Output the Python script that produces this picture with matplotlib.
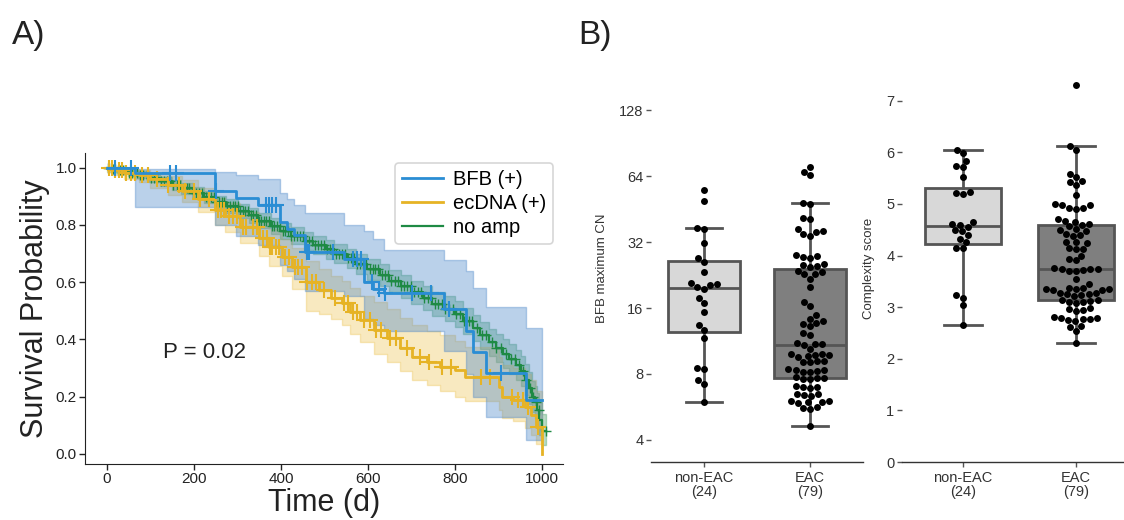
import matplotlib
matplotlib.use("Agg")
import matplotlib.pyplot as plt
from matplotlib.ticker import NullLocator
import numpy as np
import seaborn as sns

plt.rcParams["font.family"] = ["Liberation Sans", "DejaVu Sans"]

BLUE = "#2a8dd4"
YELLOW = "#e6b325"
GREEN = "#1e8a44"
BOX_EDGE = "#555555"
TEXT = "#333333"

# ---- A) Kaplan-Meier curves (read off the picture) ----
bfb_t = [0, 64, 248, 298, 348, 398, 415, 430, 456, 545, 592, 612, 637, 774, 825, 841, 871, 962, 1000]
bfb_s = [1.0, 0.982, 0.918, 0.893, 0.870, 0.81, 0.787, 0.765, 0.707, 0.682, 0.60, 0.575, 0.563, 0.505,
         0.43, 0.355, 0.284, 0.187, 0.187]
bfb_lo = [1.0, 0.864, 0.80, 0.76, 0.73, 0.66, 0.64, 0.61, 0.57, 0.55, 0.47, 0.45, 0.43, 0.36, 0.28, 0.20,
          0.13, 0.05, 0.05]
bfb_hi = [1.0, 0.995, 0.985, 0.975, 0.96, 0.91, 0.89, 0.87, 0.84, 0.80, 0.78, 0.75, 0.712, 0.678, 0.64,
          0.58, 0.514, 0.44, 0.44]
bfb_cens = [20, 55, 145, 160, 250, 365, 372, 380, 388, 460, 465, 520, 565, 575, 585, 610, 625, 640, 700,
            745, 785, 905]

ec_t = [0, 15, 40, 73, 100, 140, 173, 210, 249, 272, 306, 349, 372, 403, 426, 457, 488, 515, 540, 559,
        582, 613, 643, 674, 701, 736, 766, 800, 823, 900, 907, 934, 961, 975, 985, 1000]
ec_s = [1.0, 0.99, 0.98, 0.975, 0.96, 0.94, 0.92, 0.89, 0.852, 0.83, 0.794, 0.754, 0.724, 0.689, 0.654,
        0.600, 0.573, 0.544, 0.526, 0.497, 0.468, 0.433, 0.404, 0.369, 0.34, 0.322, 0.305, 0.293, 0.27,
        0.235, 0.20, 0.19, 0.165, 0.136, 0.095, 0.0]
ec_lo = [0.985, 0.975, 0.96, 0.95, 0.93, 0.905, 0.88, 0.845, 0.80, 0.775, 0.735, 0.69, 0.655, 0.62, 0.575,
         0.50, 0.49, 0.47, 0.45, 0.42, 0.39, 0.35, 0.32, 0.29, 0.26, 0.24, 0.22, 0.20, 0.185, 0.155, 0.125,
         0.115, 0.09, 0.065, 0.035, 0.0]
ec_hi = [1.0, 1.0, 0.995, 0.99, 0.985, 0.97, 0.955, 0.93, 0.895, 0.875, 0.845, 0.81, 0.785, 0.75, 0.72,
         0.675, 0.645, 0.62, 0.605, 0.58, 0.55, 0.53, 0.505, 0.475, 0.45, 0.43, 0.415, 0.395, 0.375, 0.34,
         0.31, 0.30, 0.28, 0.26, 0.22, 0.15]
ec_cens = [5, 12, 20, 28, 35, 45, 55, 65, 80, 95, 115, 140, 165, 180, 200, 215, 235, 255, 262, 270, 280,
           290, 300, 312, 320, 335, 345, 360, 368, 375, 380, 388, 395, 410, 418, 432, 440, 448, 460, 472,
           480, 500, 525, 545, 555, 565, 575, 590, 605, 618, 630, 650, 665, 690, 720, 740, 770, 790, 860,
           880, 930, 945, 955, 968, 990]

na_t = [0, 9, 23, 48, 71, 98, 122, 149, 171, 197, 224, 248, 273, 302, 326, 348, 377, 399, 423, 452, 474,
        503, 522, 551, 573, 598, 627, 648, 676, 699, 727, 748, 777, 801, 819, 842, 858, 878, 893, 911, 924,
        941, 951, 960, 969, 976, 983, 989, 994, 999, 1008]
na_s = [1.0, 0.995, 0.99, 0.982, 0.975, 0.965, 0.952, 0.94, 0.928, 0.913, 0.898, 0.88, 0.866, 0.85, 0.833,
        0.815, 0.797, 0.78, 0.762, 0.745, 0.73, 0.715, 0.70, 0.683, 0.664, 0.645, 0.625, 0.605, 0.585,
        0.565, 0.545, 0.525, 0.508, 0.49, 0.465, 0.44, 0.415, 0.39, 0.37, 0.35, 0.333, 0.31, 0.29, 0.26,
        0.23, 0.20, 0.18, 0.155, 0.12, 0.08, 0.08]
na_lo = [0.99, 0.985, 0.98, 0.97, 0.962, 0.95, 0.936, 0.922, 0.909, 0.893, 0.876, 0.857, 0.842, 0.825,
         0.807, 0.788, 0.769, 0.751, 0.732, 0.714, 0.698, 0.682, 0.666, 0.648, 0.628, 0.608, 0.587, 0.566,
         0.545, 0.524, 0.503, 0.482, 0.464, 0.445, 0.419, 0.393, 0.367, 0.341, 0.32, 0.299, 0.281, 0.257,
         0.236, 0.205, 0.175, 0.145, 0.124, 0.099, 0.065, 0.03, 0.03]
na_hi = [1.0, 1.0, 0.997, 0.992, 0.987, 0.978, 0.967, 0.957, 0.946, 0.932, 0.918, 0.902, 0.889, 0.874,
         0.858, 0.841, 0.824, 0.808, 0.791, 0.775, 0.761, 0.747, 0.733, 0.717, 0.699, 0.681, 0.662, 0.643,
         0.624, 0.605, 0.586, 0.567, 0.551, 0.534, 0.51, 0.486, 0.462, 0.438, 0.419, 0.40, 0.384, 0.362,
         0.343, 0.315, 0.286, 0.256, 0.237, 0.213, 0.18, 0.14, 0.14]
na_cens = [2, 6, 11, 15, 19, 26, 31, 37, 42, 50, 57, 63, 69, 77, 84, 92, 101, 108, 116, 124, 131, 139, 146,
           153, 161, 168, 177, 184, 190, 199, 206, 212, 219, 227, 233, 240, 246, 252, 258, 265, 270, 277,
           283, 289, 295, 301, 307, 312, 318, 324, 331, 337, 342, 349, 355, 361, 366, 372, 379, 385, 391,
           397, 404, 410, 417, 424, 431, 437, 444, 451, 458, 464, 471, 478, 485, 492, 499, 506, 512, 519,
           526, 533, 540, 547, 555, 561, 568, 575, 582, 589, 596, 604, 611, 617, 624, 632, 639, 646, 653,
           661, 668, 676, 683, 690, 698, 706, 714, 721, 729, 737, 745, 753, 761, 769, 778, 786, 795, 803,
           812, 821, 831, 840, 850, 861, 872, 884, 895, 906, 917, 928, 937, 946, 955, 964, 972, 980, 987,
           993, 1008]

p_text = "P = 0.02"

# ---- B) box + swarm data ----
groups = ["non-EAC", "EAC"]
group_labels = ["non-EAC\n(24)", "EAC\n(79)"]

bfb_non = [55.5, 49.5, 37.0, 36.6, 31.7, 27.2, 26.0, 23.4, 20.9, 20.4, 19.6, 20.7, 20.0, 17.8, 16.9, 15.3,
           13.4, 12.7, 11.7, 8.5, 8.4, 7.5, 7.2, 5.97]
bfb_eac = [70.7, 67.0, 64.7, 48.5, 48.0, 41.4, 41.0, 36.6, 36.0, 35.6, 34.7, 34.3,
           27.6, 27.2, 27.9, 27.4, 25.1, 24.8, 25.4, 24.6, 23.4, 23.0, 23.7, 22.8,
           21.8, 20.0, 17.0, 16.4, 14.9, 14.3, 14.0, 13.5, 13.2, 13.7, 12.3, 12.1,
           11.0, 10.9, 11.1, 11.0, 10.4, 9.8, 9.7, 9.9, 9.6, 9.85, 9.75, 9.15, 9.1, 9.2, 9.05,
           8.3, 8.2, 8.4, 8.25, 8.35, 8.15, 7.66, 7.6, 7.7, 7.55, 7.75, 7.0, 6.95, 7.05, 6.9,
           6.45, 6.4, 6.5, 6.35, 5.97, 5.9, 6.0, 5.95, 6.05, 5.6, 5.55, 5.65, 4.64]

cx_non = [6.05, 5.98, 5.84, 5.74, 5.72, 5.53, 5.22, 5.20, 5.24, 4.65, 4.60, 4.61, 4.56, 4.47, 4.49, 4.39,
          4.32, 4.26, 4.15, 4.14, 3.23, 3.18, 3.04, 2.65]
cx_eac = [7.30, 6.13, 6.05, 5.59, 5.52, 5.43, 5.44, 5.36, 5.17, 4.99, 4.98, 5.00, 4.92, 4.91, 4.93,
          4.68, 4.70, 4.66, 4.60, 4.62, 4.57, 4.50, 4.52, 4.48, 4.40, 4.42, 4.38, 4.26, 4.24, 4.27,
          4.13, 4.15, 4.12, 4.00, 3.93, 3.91, 3.75, 3.76, 3.74, 3.75, 3.71, 3.70, 3.72, 3.55, 3.44,
          3.36, 3.35, 3.37, 3.34, 3.36, 3.38, 3.33, 3.25, 3.24, 3.27, 3.22, 3.26, 3.28,
          3.12, 3.10, 3.13, 3.11, 3.14, 3.09, 2.96, 2.94, 2.98, 2.92,
          2.80, 2.78, 2.79, 2.77, 2.81, 2.76, 2.73, 2.64, 2.62, 2.54, 2.30]


def _censor_y(t, s, cens):
    t = np.asarray(t)
    s = np.asarray(s)
    idx = np.searchsorted(t, np.asarray(cens), side="right") - 1
    return s[np.clip(idx, 0, len(s) - 1)]


fig = plt.figure(figsize=(11.24, 5.2), dpi=100)

# ---------------- panel A ----------------
ax = fig.add_axes([85 / 1124, 56 / 520, 478 / 1124, 311 / 520])
series = [
    (na_t, na_s, na_lo, na_hi, na_cens, GREEN, "no amp", 1.6, 7, 1.0),
    (ec_t, ec_s, ec_lo, ec_hi, ec_cens, YELLOW, "ecDNA (+)", 2.0, 11, 1.5),
    (bfb_t, bfb_s, bfb_lo, bfb_hi, bfb_cens, BLUE, "BFB (+)", 2.0, 11, 1.5),
]
band_colors = {GREEN: ("#1e8a44", 0.3), YELLOW: ("#e8b830", 0.3), BLUE: ("#4a86c8", 0.38)}
handles = {}
for t, s, lo, hi, cens, color, label, lw, ms, mew in series:
    bc, ba = band_colors[color]
    ax.fill_between(t, lo, hi, step="post", color=bc, alpha=ba, linewidth=1.0, zorder=1)
for t, s, lo, hi, cens, color, label, lw, ms, mew in series:
    (line,) = ax.step(t, s, where="post", color=color, linewidth=lw, label=label, zorder=3)
    ax.plot(cens, _censor_y(t, s, cens), linestyle="none", marker="+", ms=ms, mew=mew,
            color=color, zorder=3)
    handles[label] = line

ax.text(225, 0.355, p_text, fontsize=16, ha="center", va="center", color="#222222")
ax.set_xlim(-50, 1048)
ax.set_ylim(-0.035, 1.051)
ax.set_xticks([0, 200, 400, 600, 800, 1000])
ax.set_yticks([0.0, 0.2, 0.4, 0.6, 0.8, 1.0])
ax.set_yticklabels(["0.0", "0.2", "0.4", "0.6", "0.8", "1.0"])
ax.set_xlabel("Time (d)", fontsize=22, labelpad=1, color="#222222")
ax.set_ylabel("Survival Probability", fontsize=22, labelpad=4, color="#222222")
ax.tick_params(labelsize=11, length=4, width=1, colors="#222222", pad=2)
ax.spines[["top", "right"]].set_visible(False)
ax.spines[["left", "bottom"]].set_color("#222222")
leg = ax.legend([handles["BFB (+)"], handles["ecDNA (+)"], handles["no amp"]],
                ["BFB (+)", "ecDNA (+)", "no amp"], loc="upper right", fontsize=14.5,
                frameon=True, fancybox=True, borderaxespad=0.5, handletextpad=0.5,
                labelspacing=0.25, borderpad=0.35)
leg.get_frame().set_edgecolor("#cccccc")
leg.get_frame().set_linewidth(1.2)

label_family = ["Liberation Sans Narrow", "Liberation Sans", "DejaVu Sans"]
fig.text(12 / 1124, 1 - 20 / 520, "A)", fontsize=24, va="top", ha="left", family=label_family,
         color="#222222")
fig.text(578 / 1124, 1 - 20 / 520, "B)", fontsize=24, va="top", ha="left", family=label_family,
         color="#222222")


# ---------------- panel B ----------------
def _box_swarm(axis, non, eac, log=False):
    if log:
        axis.set_yscale("log", base=2)
    bp = axis.boxplot([non, eac], positions=[0, 1], widths=0.67, patch_artist=True, showfliers=False,
                      whis=1.5, zorder=1,
                      boxprops=dict(edgecolor=BOX_EDGE, linewidth=2.0),
                      medianprops=dict(color=BOX_EDGE, linewidth=2.0),
                      whiskerprops=dict(color=BOX_EDGE, linewidth=2.0),
                      capprops=dict(color=BOX_EDGE, linewidth=2.0))
    for patch, fc in zip(bp["boxes"], ["#d8d8d8", "#7f7f7f"]):
        patch.set_facecolor(fc)
    cats = [groups[0]] * len(non) + [groups[1]] * len(eac)
    sns.swarmplot(x=cats, y=list(non) + list(eac), order=groups, color="black", size=5.0, ax=axis,
                  zorder=3)
    axis.set_xlim(-0.5, 1.5)
    axis.set_xticks([0, 1])
    axis.set_xticklabels(group_labels, fontsize=10.5, color=TEXT, linespacing=1.0)
    axis.set_xlabel("")
    axis.spines[["top", "right", "left"]].set_visible(False)
    axis.spines["bottom"].set_color("#333333")
    axis.spines["bottom"].set_linewidth(1.0)
    axis.tick_params(axis="y", labelsize=10.5, length=3.5, width=1, colors="#555555", labelcolor=TEXT,
                     pad=2)
    axis.tick_params(axis="x", length=3.5, width=1, colors="#555555", labelcolor=TEXT, pad=3)


axb1 = fig.add_axes([651 / 1124, 58 / 520, 212 / 1124, 387 / 520])
_box_swarm(axb1, bfb_non, bfb_eac, log=True)
axb1.set_ylim(3.17, 185.6)
axb1.set_yticks([4, 8, 16, 32, 64, 128])
axb1.set_yticklabels(["4", "8", "16", "32", "64", "128"])
axb1.yaxis.set_minor_locator(NullLocator())
axb1.set_ylabel("BFB maximum CN", fontsize=9.5, color=TEXT, labelpad=8)

axb2 = fig.add_axes([902 / 1124, 58 / 520, 222 / 1124, 387 / 520])
_box_swarm(axb2, cx_non, cx_eac)
axb2.set_xlim(-0.54, 1.425)
axb2.set_ylim(0, 7.5)
axb2.set_yticks(range(0, 8))
axb2.set_ylabel("Complexity score", fontsize=9.5, color=TEXT, labelpad=8)

fig.savefig("out.png", dpi=100)
